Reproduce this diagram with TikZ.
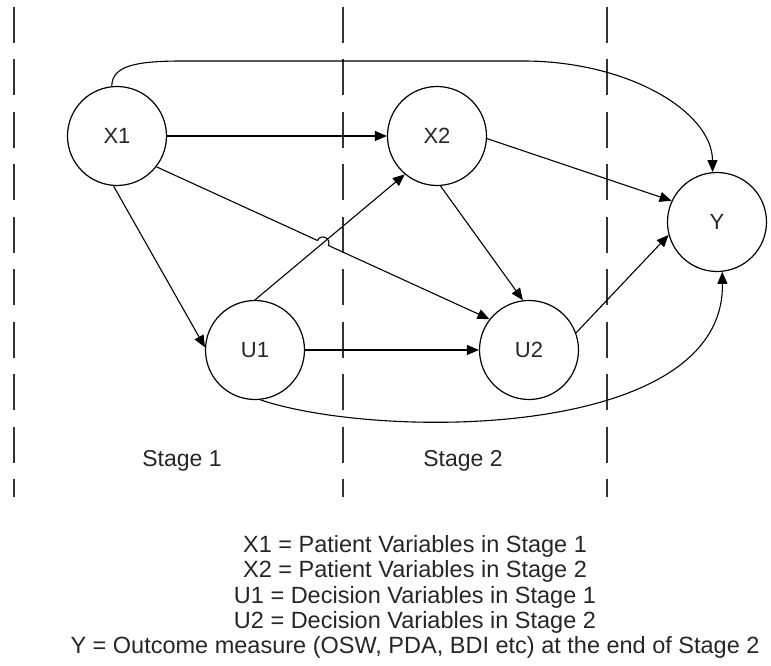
\documentclass[tikz,border=0pt]{standalone}
\usepackage{fontspec}
\setmainfont{Liberation Sans}
\usetikzlibrary{arrows.meta,calc,intersections}

\begin{document}
\begin{tikzpicture}[x=1pt,y=1pt,
  var/.style={circle,draw=black,line width=1.2pt,minimum size=99pt,inner sep=0pt,
              font=\fontsize{22}{25}\selectfont,text=black!85},
  link/.style={draw=black,line width=1.1pt,-{Triangle[length=12pt,width=10pt]}},
  stageline/.style={draw=black!80,line width=1.6pt,dash pattern=on 36pt off 16.5pt},
  caption/.style={font=\fontsize{23}{26}\selectfont,text=black!85,inner sep=0pt},
  legendline/.style={font=\fontsize{23.5}{25}\selectfont,text=black!85,inner sep=0pt,anchor=base},
]
\useasboundingbox (0,0) rectangle (771,666);

% stage boundaries
\coordinate (s0t) at (14,659);  \coordinate (s0b) at (14,169);
\coordinate (s1t) at (343,659); \coordinate (s1b) at (343,169);
\coordinate (s2t) at (607,659); \coordinate (s2b) at (607,169);
\draw[stageline] (s0t) -- (s0b);
\draw[stageline] (s1t) -- (s1b);
\draw[stageline] (s2t) -- (s2b);

% variables
\node[var] (X1) at (117,530) {X1};
\node[var] (X2) at (437,530) {X2};
\node[var] (Y)  at (717,444) {Y};
\node[var] (U1) at (255,316) {U1};
\node[var] (U2) at (529,316) {U2};

% straight dependencies
\draw[link] (X1.east) -- (X2.west);
\draw[link] (X1.-94) -- (U1.177);
\draw[link] (U1.north) -- (X2.-130);
\draw[link] (X2.-86) -- (U2.97);
\draw[link] (X2.-3) -- (Y.155);
\draw[link] (U1.east) -- (U2.west);
\draw[link] (U2.20) -- (Y.195);

% X1 -> U2 with a line hop where it crosses U1 -> X2
\path[name path=ux] (U1.north) -- (X2.-130);
\path[name path=xu] (X1.-38) -- (U2.142);
\path[name intersections={of=ux and xu,by=hop}];
\draw[link] let \p1=($(U2.142)-(X1.-38)$), \n1={atan2(\y1,\x1)} in
  (X1.-38) -- ($(hop)!6pt!(X1.-38)$)
  arc[start angle=\n1+180,end angle=\n1,radius=6pt] -- (U2.142);

% long-range dependencies on the outcome
\draw[link] (X1.96) .. controls (112,600) and (135,605) .. (183,605)
  -- (523,605) .. controls (627,605) and (712,555) .. (Y.95);
\draw[link] (U1.-84) .. controls (380,226) and (725,226) .. (Y.-84);

% stage labels
\node[caption] (st1) at (182,205) {Stage 1};
\node[caption] (st2) at (463,205) {Stage 2};

% legend
\node[legendline] (lg1) at (415,113) {X1 = Patient Variables in Stage 1};
\node[legendline] (lg2) at (415,88)  {X2 = Patient Variables in Stage 2};
\node[legendline] (lg3) at (415,62)  {U1 = Decision Variables in Stage 1};
\node[legendline] (lg4) at (415,37)  {U2 = Decision Variables in Stage 2};
\node[legendline] (lg5) at (415,12)  {Y = Outcome measure (OSW, PDA, BDI etc) at the end of Stage 2};
\end{tikzpicture}
\end{document}
